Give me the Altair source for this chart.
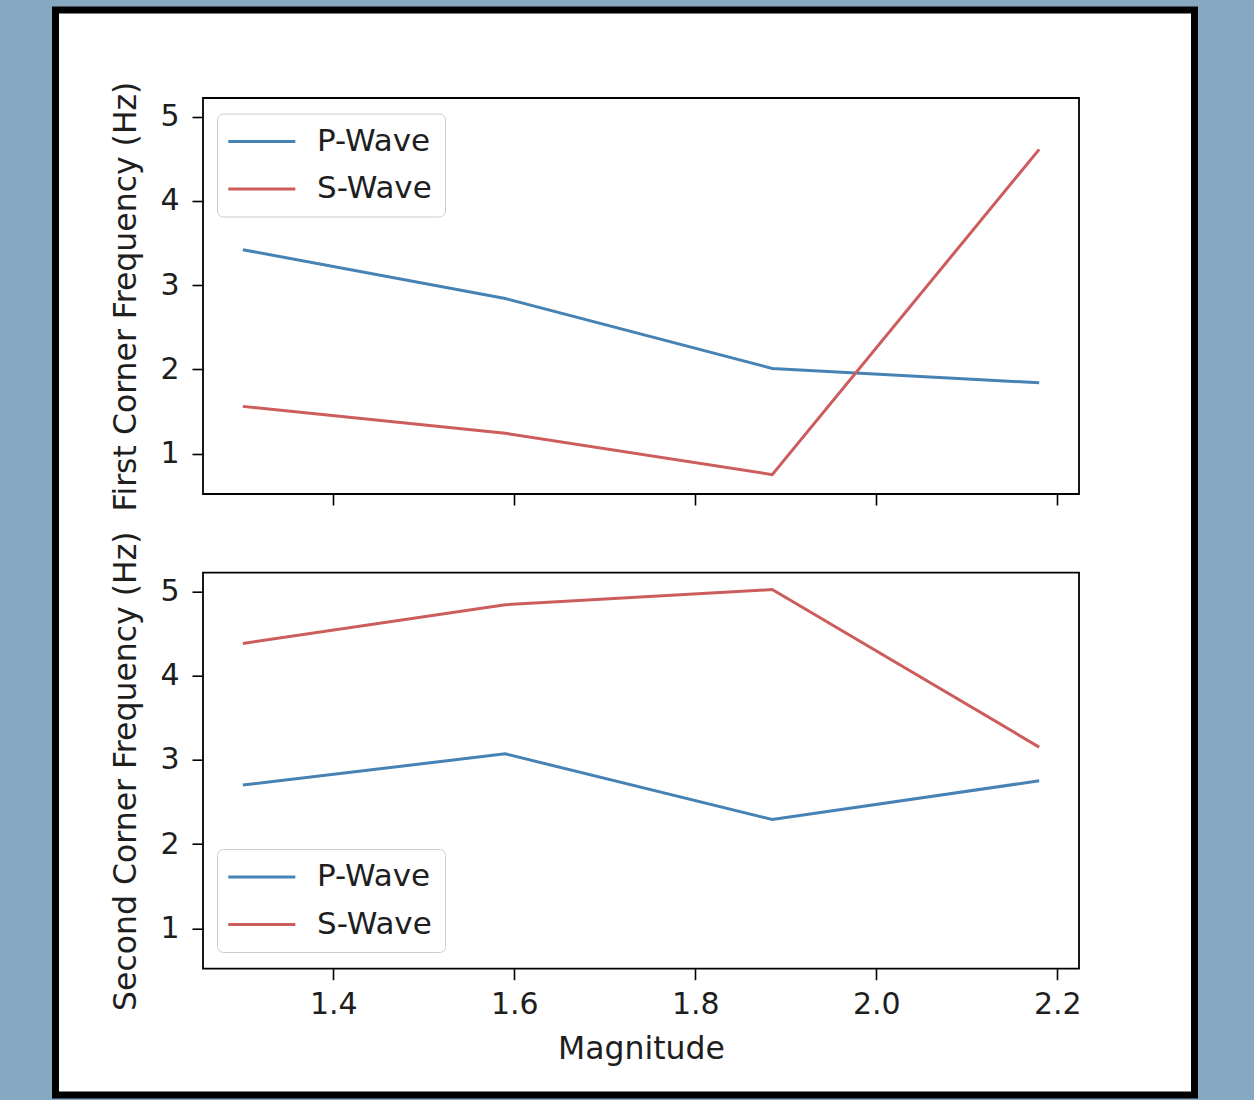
import altair as alt
import pandas as pd

# ---- data ----
magnitude = [1.3, 1.59, 1.885, 2.18]
first_p = [3.42, 2.84, 2.01, 1.84]
first_s = [1.56, 1.24, 0.75, 4.61]
second_p = [2.70, 3.07, 2.29, 2.75]
second_s = [4.38, 4.84, 5.02, 3.15]
series = ["P-Wave", "S-Wave"]
colors = ["#4682b4", "#cd5c5c"]
x_ticks = [1.4, 1.6, 1.8, 2.0, 2.2]
y_ticks = [1, 2, 3, 4, 5]
x_domain = [1.256, 2.224]
y_domain = [0.52, 5.22]

W, H = 876, 396
FONT = "DejaVu Sans"
TICK_FS = 30
TITLE_FS = 31.5
LEG_FS = 31
TXT = "#1e1e1e"


def make_df(p_vals, s_vals):
    rows = []
    for name, vals in zip(series, [p_vals, s_vals]):
        for m, v in zip(magnitude, vals):
            rows.append({"Magnitude": m, "Freq": v, "Wave": name})
    return pd.DataFrame(rows)


def legend(y):
    return alt.Legend(
        title=None, orient="none", legendX=14, legendY=y,
        symbolType="M-1.5,0H4.5", symbolSize=500, symbolStrokeWidth=3,
        labelFont=FONT, labelFontSize=LEG_FS, labelColor=TXT, labelOffset=56.6,
        fillColor="rgba(255,255,255,0.8)", strokeColor="#cccccc",
        cornerRadius=6, padding=12.5, rowPadding=15.5,
    )


def lines(df, ytitle, show_x, legend_y):
    x_axis = alt.Axis(
        values=x_ticks, labels=show_x, title="Magnitude" if show_x else None,
        format=".1f", tickSize=11, tickWidth=1.6, tickColor="black",
        domain=False, grid=False, zindex=1,
        labelFont=FONT, labelFontSize=TICK_FS, labelColor=TXT, labelPadding=10,
        titleFont=FONT, titleFontSize=TITLE_FS, titleColor=TXT,
        titleFontWeight="normal", titlePadding=14,
    )
    y_axis = alt.Axis(
        values=y_ticks, title=ytitle, format="d", tickSize=11, tickWidth=1.6,
        tickColor="black", domain=False, grid=False, zindex=1,
        labelFont=FONT, labelFontSize=TICK_FS, labelColor=TXT, labelPadding=13,
        titleFont=FONT, titleFontSize=TITLE_FS, titleColor=TXT,
        titleFontWeight="normal", titlePadding=17,
    )
    return alt.Chart(df).mark_line(strokeWidth=3, clip=True).encode(
        x=alt.X("Magnitude:Q", scale=alt.Scale(domain=x_domain, nice=False, zero=False), axis=x_axis),
        y=alt.Y("Freq:Q", scale=alt.Scale(domain=y_domain, nice=False, zero=False), axis=y_axis),
        color=alt.Color("Wave:N", scale=alt.Scale(domain=series, range=colors), legend=legend(legend_y)),
    )


one = alt.Data(values=[{"k": 1}])

panel_frame = alt.Chart(one).mark_rect(
    fill="transparent", stroke="black", strokeWidth=1.8
).encode(x=alt.value(0), x2=alt.value(W), y=alt.value(0), y2=alt.value(H))

outer_frame = alt.Chart(one).mark_rect(
    fill="white", stroke="black", strokeWidth=7, clip=False
).encode(x=alt.value(-147.5), x2=alt.value(991.5), y=alt.value(-88), y2=alt.value(997))

top = alt.layer(
    outer_frame,
    lines(make_df(first_p, first_s), "First Corner Frequency (Hz)", False, 15.5),
    panel_frame,
).properties(width=W, height=H)

bottom = alt.layer(
    lines(make_df(second_p, second_s), "Second Corner Frequency (Hz)", True, 276.3),
    panel_frame,
).properties(width=W, height=H)

chart = (
    alt.vconcat(top, bottom, spacing=78.7, bounds="flush")
    .resolve_legend(color="independent")
    .properties(
        background="#87a8c1",
        padding={"left": 52, "top": 6, "right": 56, "bottom": 2},
    )
    .configure_view(strokeWidth=0)
)

chart.save("out.html", embed_options={"renderer": "svg", "actions": False})
